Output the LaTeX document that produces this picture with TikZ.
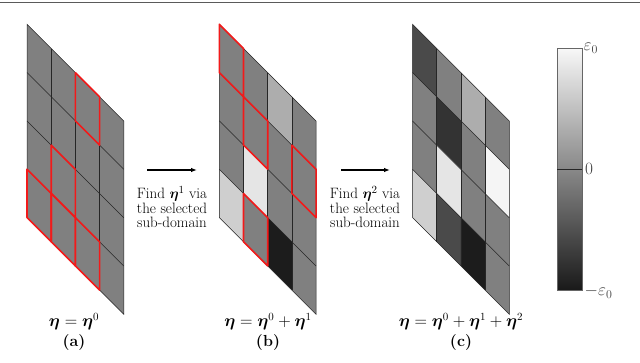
\documentclass[tikz,border=0pt]{standalone}
\usepackage{amsmath}
\usepackage{amssymb}
\usepackage{bm}
\usepackage{tikz}
\usepackage{xcolor}
\usetikzlibrary{arrows.meta, positioning, calc}
\definecolor{Sub_Red}{HTML}{F21A1A}
\definecolor{Rule_Gray}{HTML}{5A5A5A}

\tikzset{
    cellline/.style={draw=black!85, line width=0.5pt},
    subdomain/.style={draw=Sub_Red, line width=1.6pt, line join=round},
    findtext/.style={align=center, inner sep=0pt, font=\fontsize{15}{14.5}\selectfont},
    eqlabel/.style={inner sep=0pt, font=\fontsize{16}{16}\selectfont},
    barlabel/.style={anchor=west, inner sep=0pt, text=black!75, font=\fontsize{16.5}{16.5}\selectfont},
    steparrow/.style={-{Latex[length=6pt, width=4.5pt]}, line width=1.1pt}
}

\begin{document}
\begin{tikzpicture}[x=1pt, y=-1pt]
    \useasboundingbox (0,0) rectangle (640,362);

    % rule at the top
    \draw[line width=1.3pt, Rule_Gray] (0,2.5) -- (640,2.5);

    % ===== (a): initial field =====
    \begin{scope}[shift={(27,24.3)}, yslant=-1]
        \fill[black!50] (0,0) rectangle (96.8,193.2);

        % cell lines
        \foreach \k in {1,2,3} \draw[cellline] ({\k*24.2},0) -- ++(0,193.2);
        \foreach \k in {1,2,3} \draw[cellline] (0,{\k*48.3}) -- ++(96.8,0);
        \draw[cellline] (0,0) rectangle (96.8,193.2);

        % selected sub-domain
        \foreach \i/\j in {2/0, 1/2, 1/3, 0/3, 2/3}
            \draw[subdomain] ({\i*24.2},{\j*48.3}) rectangle ++(24.2,48.3);
    \end{scope}

    \node[eqlabel] (eqa) at (74,322) {$\bm{\eta}=\bm{\eta}^0$};
    \node[eqlabel] (laba) at (74,343) {\textbf{(a)}};

    % ===== (b): after first update =====
    \begin{scope}[shift={(219.3,24.3)}, yslant=-1]
        \fill[black!50] (0,0) rectangle (96.8,193.2);
        \foreach \i/\j/\g in {2/0/32, 1/2/10, 0/3/19, 2/3/89}
            \fill[black!\g] ({\i*24.2},{\j*48.3}) rectangle ++(24.2,48.3);

        % cell lines
        \foreach \k in {1,2,3} \draw[cellline] ({\k*24.2},0) -- ++(0,193.2);
        \foreach \k in {1,2,3} \draw[cellline] (0,{\k*48.3}) -- ++(96.8,0);
        \draw[cellline] (0,0) rectangle (96.8,193.2);

        % selected sub-domain
        \foreach \i/\j in {0/0, 1/1, 3/1, 1/3}
            \draw[subdomain] ({\i*24.2},{\j*48.3}) rectangle ++(24.2,48.3);
    \end{scope}

    \node[eqlabel] (eqb) at (268,322) {$\bm{\eta}=\bm{\eta}^0+\bm{\eta}^1$};
    \node[eqlabel] (labb) at (268,343) {\textbf{(b)}};

    % ===== (c): after second update =====
    \begin{scope}[shift={(412.5,24.3)}, yslant=-1]
        \fill[black!50] (0,0) rectangle (96.8,193.2);
        \foreach \i/\j/\g in {0/0/71, 1/1/80, 1/2/10, 0/3/19, 1/3/71, 2/0/32, 2/3/89, 3/1/4}
            \fill[black!\g] ({\i*24.2},{\j*48.3}) rectangle ++(24.2,48.3);

        % cell lines
        \foreach \k in {1,2,3} \draw[cellline] ({\k*24.2},0) -- ++(0,193.2);
        \foreach \k in {1,2,3} \draw[cellline] (0,{\k*48.3}) -- ++(96.8,0);
        \draw[cellline] (0,0) rectangle (96.8,193.2);
    \end{scope}

    \node[eqlabel] (eqc) at (461,322) {$\bm{\eta}=\bm{\eta}^0+\bm{\eta}^1+\bm{\eta}^2$};
    \node[eqlabel] (labc) at (461,343) {\textbf{(c)}};

    % ===== steps between panels =====
    \coordinate (arrAs) at (147,170);
    \coordinate (arrAe) at (197,170);
    \draw[steparrow] (arrAs) -- (arrAe);
    \node[findtext] (findA) at (172,207) {Find $\bm{\eta}^1$ via\\the selected\\sub-domain};

    \coordinate (arrBs) at (341,170);
    \coordinate (arrBe) at (390,170);
    \draw[steparrow] (arrBs) -- (arrBe);
    \node[findtext] (findB) at (365,207) {Find $\bm{\eta}^2$ via\\the selected\\sub-domain};

    % ===== colour bar =====
    \shade[top color=black!3, middle color=black!50, bottom color=black!90] (557.3,48.3) rectangle (582,290);
    \draw[line width=0.6pt, black!60] (557.3,48.3) rectangle (582,290);
    \draw[line width=0.8pt, black!85] (557.3,169.3) -- (582,169.3);

    \node[barlabel] (epsTop) at (583.5,48) {$\varepsilon_0$};
    \node[barlabel] (zeroLab) at (585,169.3) {$0$};
    \node[barlabel] (epsBot) at (584.5,292) {$-\varepsilon_0$};
\end{tikzpicture}
\end{document}
